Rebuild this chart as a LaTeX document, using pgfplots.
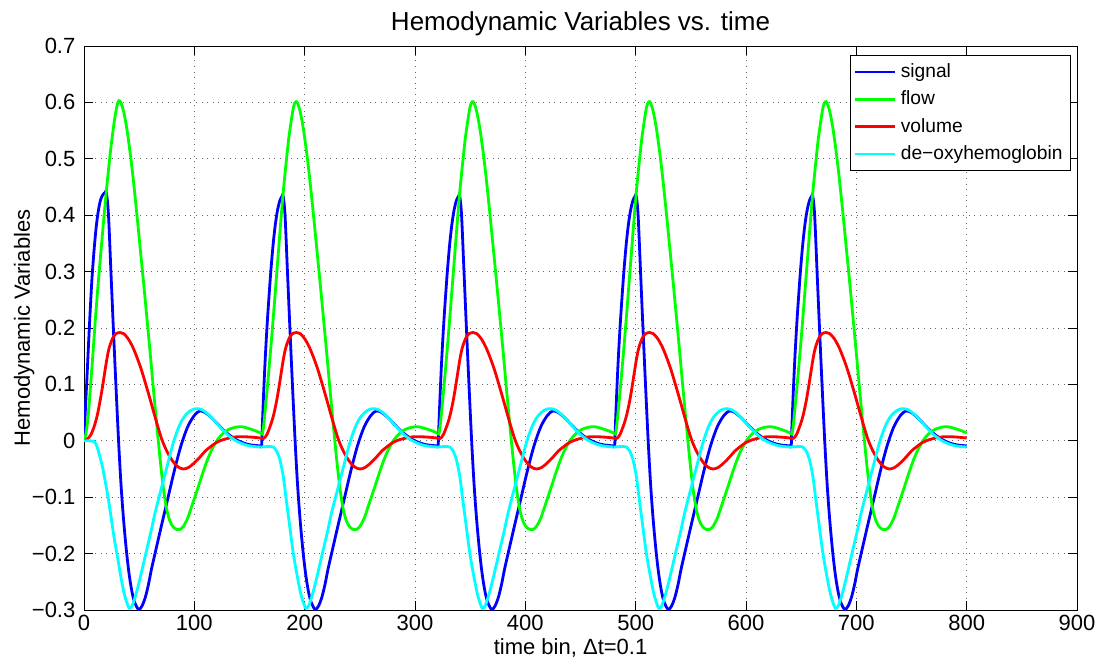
\documentclass[border=0pt]{standalone}
\usepackage{fontspec}
\setmainfont{Liberation Sans}
\usepackage{pgfplots}
\usepackage{pgfplotstable}
\pgfplotsset{compat=1.18}

% ---- signal, first period (starts from rest) ----
\pgfplotstableread{
t y
0 0
1 0.045
2 0.085
3 0.125
4 0.167
5 0.207
6 0.245
7.3 0.29
9 0.335
11 0.378
13 0.408
15 0.427
17 0.436
19 0.44
20.3 0.44
22.2 0.40
24.4 0.30
26.6 0.20
28.9 0.10
31.2 0.005
33 -0.06
34.5 -0.105
36.3 -0.15
38.6 -0.198
41 -0.238
43.5 -0.268
46 -0.287
49.5 -0.299
52.5 -0.293
55.5 -0.278
58.5 -0.254
61 -0.229
64 -0.203
70 -0.152
76 -0.102
82 -0.052
88 -0.008
94 0.025
100 0.045
105 0.053
110 0.050
115 0.042
120 0.032
127 0.018
134 0.007
141 -0.001
148 -0.006
154 -0.008
160 -0.009
}\sigA
% ---- signal, later periods (time within period) ----
\pgfplotstableread{
t y
0 -0.008
1 -0.008
1.5 0.02
2.5 0.07
3.5 0.115
4.5 0.155
5.5 0.19
6.5 0.222
8 0.265
9.5 0.305
11.5 0.35
13.5 0.385
15.5 0.41
17.5 0.426
19.3 0.433
20.5 0.434
22.2 0.40
24.4 0.30
26.6 0.20
28.9 0.10
31.2 0.005
33 -0.06
34.5 -0.105
36.3 -0.15
38.6 -0.198
41 -0.238
43.5 -0.268
46 -0.287
49.5 -0.299
52.5 -0.293
55.5 -0.278
58.5 -0.254
61 -0.229
64 -0.203
70 -0.152
76 -0.102
82 -0.052
88 -0.008
94 0.025
100 0.045
105 0.053
110 0.050
115 0.042
120 0.032
127 0.018
134 0.007
141 -0.001
148 -0.006
154 -0.008
160 -0.009
}\sigB
% ---- flow ----
\pgfplotstableread{
t y
0 0
1.5 0.01
3 0.03
4.5 0.06
6 0.1
8 0.152
10 0.207
12 0.258
14 0.305
16 0.35
18 0.395
20 0.437
22.7 0.49
25 0.53
27.5 0.567
30 0.595
31.7 0.603
33.5 0.599
36 0.583
39 0.551
42.5 0.5
45 0.457
48 0.4
51 0.34
54 0.28
57 0.218
60 0.155
63 0.09
66 0.027
69 -0.033
72 -0.085
75 -0.122
78 -0.143
81 -0.153
84 -0.157
87 -0.157
90 -0.152
94 -0.137
98 -0.114
103 -0.085
108 -0.055
112 -0.033
116 -0.015
121 0.002
126 0.013
131 0.02
137 0.024
143 0.025
149 0.022
155 0.018
160 0.014
}\floA
\pgfplotstableread{
t y
0 0.014
1.5 0.012
2.5 0.022
3.5 0.04
5 0.07
7 0.113
9 0.158
11 0.205
13 0.255
15 0.305
17 0.355
19 0.405
21 0.45
23.3 0.495
25.5 0.535
28 0.57
30 0.593
31.8 0.601
33.5 0.599
36 0.583
39 0.551
42.5 0.5
45 0.457
48 0.4
51 0.34
54 0.28
57 0.218
60 0.155
63 0.09
66 0.027
69 -0.033
72 -0.085
75 -0.122
78 -0.143
81 -0.153
84 -0.157
87 -0.157
90 -0.152
94 -0.137
98 -0.114
103 -0.085
108 -0.055
112 -0.033
116 -0.015
121 0.002
126 0.013
131 0.02
137 0.024
143 0.025
149 0.022
155 0.018
160 0.014
}\floB
% ---- volume ----
\pgfplotstableread{
t y
0 0
3 0.003
6 0.01
9 0.024
12 0.045
14.5 0.07
16.7 0.095
19 0.124
21 0.148
23 0.166
26 0.182
29 0.19
32.7 0.192
36 0.19
40 0.181
44 0.167
48 0.148
52 0.126
56 0.1
60 0.073
64 0.045
68 0.018
71 0.0
75 -0.018
80 -0.035
85 -0.046
90 -0.05
95 -0.047
100 -0.039
105 -0.029
110 -0.018
115 -0.01
120 -0.003
126 0.002
132 0.005
138 0.007
145 0.0072
152 0.0065
160 0.005
}\volA
\pgfplotstableread{
t y
0 0.005
2.5 0.004
4 0.006
6 0.012
8 0.022
10 0.033
12 0.047
14.5 0.07
16.7 0.095
19 0.124
21 0.148
23 0.166
26 0.182
29 0.19
32.7 0.192
36 0.19
40 0.181
44 0.167
48 0.148
52 0.126
56 0.1
60 0.073
64 0.045
68 0.018
71 0.0
75 -0.018
80 -0.035
85 -0.046
90 -0.05
95 -0.047
100 -0.039
105 -0.029
110 -0.018
115 -0.01
120 -0.003
126 0.002
132 0.005
138 0.007
145 0.0072
152 0.0065
160 0.005
}\volB
% ---- de-oxyhemoglobin ----
\pgfplotstableread{
t y
0 0
5 0
9 -0.001
11 -0.006
13.6 -0.022
16.7 -0.046
19.7 -0.077
21.8 -0.1
24 -0.128
26 -0.155
28 -0.18
30.3 -0.205
33 -0.237
36 -0.267
38.5 -0.285
41 -0.297
43.5 -0.293
46 -0.279
48.5 -0.262
51.5 -0.238
56 -0.2
60.6 -0.162
64 -0.131
68 -0.1
72 -0.07
76 -0.04
81 -0.003
86 0.025
91 0.043
97 0.054
102 0.057
107 0.055
112 0.048
118 0.036
124 0.023
130 0.011
136 0.002
142 -0.004
148 -0.008
154 -0.01
160 -0.011
}\deoA
\pgfplotstableread{
t y
0 -0.011
4 -0.0105
9 -0.01
11.5 -0.011
14.5 -0.018
17.6 -0.034
20.6 -0.063
23 -0.1
26 -0.145
29 -0.19
31 -0.215
33 -0.237
36 -0.267
38.5 -0.285
41 -0.297
43.5 -0.293
46 -0.279
48.5 -0.262
51.5 -0.238
56 -0.2
60.6 -0.162
64 -0.131
68 -0.1
72 -0.07
76 -0.04
81 -0.003
86 0.025
91 0.043
97 0.054
102 0.057
107 0.055
112 0.048
118 0.036
124 0.023
130 0.011
136 0.002
142 -0.004
148 -0.008
154 -0.01
160 -0.011
}\deoB

\definecolor{mblue}{rgb}{0,0,1}
\definecolor{mgreen}{rgb}{0,1,0}
\definecolor{mred}{rgb}{1,0,0}
\definecolor{mcyan}{rgb}{0,1,1}

\begin{document}
\begin{tikzpicture}
\begin{axis}[
  at={(0,0)}, anchor=south west,
  scale only axis, width=496.5pt, height=282pt,
  xmin=0, xmax=900, ymin=-0.3, ymax=0.7,
  xtick={0,100,200,300,400,500,600,700,800,900},
  xticklabels={0,100,200,300,400,500,600,700,800,900},
  ytick={-0.3,-0.2,-0.1,0,0.1,0.2,0.3,0.4,0.5,0.6,0.7},
  yticklabels={−0.3,−0.2,−0.1,0,0.1,0.2,0.3,0.4,0.5,0.6,0.7},
  tick align=inside, major tick length=4.5pt,
  tick style={black, line width=0.5pt},
  axis line style={black, line width=0.5pt},
  grid=major,
  major grid style={black!60, line width=0.4pt, dash pattern=on 0.45pt off 2.35pt},
  ticklabel style={font=\fontsize{11}{13}\selectfont},
  xticklabel style={anchor=base, yshift=-10pt},
  yticklabel style={anchor=east, xshift=-0.8pt},
  every axis title shift=0pt,
  title={Hemodynamic Variables vs. time},
  title style={font=\fontsize{13}{15}\selectfont, at={(axis description cs:0.5,1.027)}, anchor=base},
  xlabel={time bin, Δt=0.1},
  xlabel style={font=\fontsize{11}{13}\selectfont, at={(axis description cs:0.49,-0.078)}, anchor=base},
  ylabel={Hemodynamic Variables},
  ylabel style={font=\fontsize{11}{13}\selectfont, at={(axis description cs:-0.0545,0.5)}, anchor=base},
  legend style={at={(0.994,0.984)}, anchor=north east, draw=black, line width=0.5pt,
    fill=white, font=\fontsize{9.6}{11}\selectfont, inner sep=2pt, row sep=1.2pt,
    cells={anchor=west}},
  legend image code/.code={\draw[#1] (0pt,0pt) -- (20pt,0pt);},
]
\addplot[mblue, line width=1.4pt, smooth] table[x=t, y=y] {\sigA};
\addlegendentry{signal}
\pgfplotsinvokeforeach{160,320,480,640}{
  \addplot[mblue, line width=1.4pt, smooth, forget plot] table[x expr=\thisrow{t}+#1, y=y] {\sigB};
}
\addplot[mgreen, line width=1.4pt, smooth] table[x=t, y=y] {\floA};
\addlegendentry{flow}
\pgfplotsinvokeforeach{160,320,480,640}{
  \addplot[mgreen, line width=1.4pt, smooth, forget plot] table[x expr=\thisrow{t}+#1, y=y] {\floB};
}
\addplot[mred, line width=1.4pt, smooth] table[x=t, y=y] {\volA};
\addlegendentry{volume}
\pgfplotsinvokeforeach{160,320,480,640}{
  \addplot[mred, line width=1.4pt, smooth, forget plot] table[x expr=\thisrow{t}+#1, y=y] {\volB};
}
\addplot[mcyan, line width=1.4pt, smooth] table[x=t, y=y] {\deoA};
\addlegendentry{de−oxyhemoglobin}
\pgfplotsinvokeforeach{160,320,480,640}{
  \addplot[mcyan, line width=1.4pt, smooth, forget plot] table[x expr=\thisrow{t}+#1, y=y] {\deoB};
}
\end{axis}
\pgfresetboundingbox
\path[use as bounding box] (-42pt,-25pt) rectangle (513.5pt,305pt);
\end{tikzpicture}
\end{document}
